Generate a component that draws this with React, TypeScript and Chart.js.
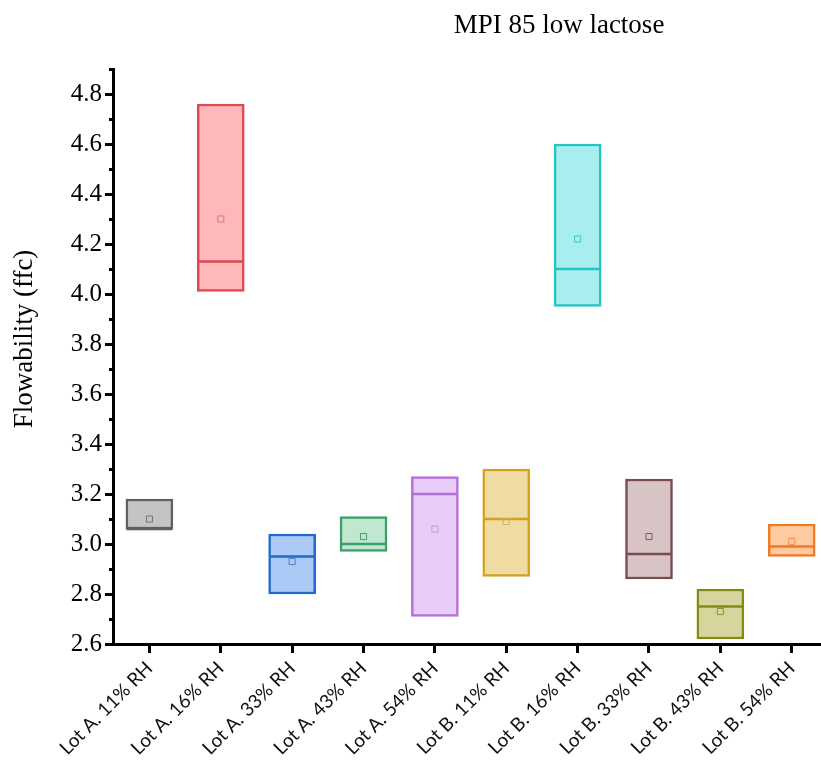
import React, { useEffect, useRef } from "react";
import { Chart, registerables } from "chart.js";

Chart.register(...registerables);

const TITLE = "MPI 85 low lactose";
const Y_TITLE = "Flowability (ffc)";

const categories = [
  "Lot A. 11% RH",
  "Lot A. 16% RH",
  "Lot A. 33% RH",
  "Lot A. 43% RH",
  "Lot A. 54% RH",
  "Lot B. 11% RH",
  "Lot B. 16% RH",
  "Lot B. 33% RH",
  "Lot B. 43% RH",
  "Lot B. 54% RH",
];

const boxLow = [3.06, 4.01, 2.8, 2.97, 2.71, 2.87, 3.95, 2.86, 2.62, 2.95];
const boxHigh = [3.18, 4.76, 3.04, 3.11, 3.27, 3.3, 4.6, 3.26, 2.82, 3.08];
const medians = [3.06, 4.13, 2.95, 3.0, 3.2, 3.1, 4.1, 2.96, 2.75, 2.99];
const means = [3.1, 4.3, 2.93, 3.03, 3.06, 3.09, 4.22, 3.03, 2.73, 3.01];

const borderColors = [
  "#606060",
  "#e0474f",
  "#2068cc",
  "#3a9f68",
  "#b56fdb",
  "#d4a11e",
  "#22c4c4",
  "#7a4b50",
  "#878a12",
  "#ef7a22",
];
const fillColors = [
  "#c4c4c4",
  "#ffb8ba",
  "#abcaf5",
  "#c0e7cf",
  "#e6ccf6",
  "#efdca2",
  "#a8eeee",
  "#d8c4c5",
  "#d6d59e",
  "#ffc9a2",
];
const meanColors = [
  "#707070",
  "#d77a80",
  "#4f82c8",
  "#4f9a70",
  "#c79ae0",
  "#d6b050",
  "#40c4c4",
  "#7f5a5e",
  "#8f9030",
  "#f09050",
];

const yMin = 2.6;
const yMax = 4.9;
const yStep = 0.1;
const xMin = -0.51;
const xMax = 9.41;

const titlePlugin = {
  id: "manualTitles",
  afterDraw(chart: any) {
    const ctx = chart.ctx;
    ctx.save();
    ctx.fillStyle = "#000";
    ctx.font = '27px "Liberation Serif"';
    ctx.textAlign = "center";
    ctx.textBaseline = "alphabetic";
    ctx.fillText(TITLE, 559, 33);
    ctx.translate(25, 339);
    ctx.rotate(-Math.PI / 2);
    ctx.textBaseline = "middle";
    ctx.fillText(Y_TITLE, 0, 0);
    ctx.restore();
  },
};

export default function App() {
  const ref = useRef<HTMLCanvasElement | null>(null);

  useEffect(() => {
    if (!ref.current) return;
    const chart = new Chart(ref.current, {
      type: "bar",
      data: {
        datasets: [
          {
            type: "bar",
            label: "box",
            data: categories.map((_, i) => ({ x: i, y: [boxLow[i], boxHigh[i]] })) as any,
            backgroundColor: fillColors,
            borderColor: borderColors,
            borderWidth: 2.5,
            borderSkipped: false,
            barThickness: 47,
            grouped: false,
            order: 3,
          } as any,
          {
            type: "line",
            label: "median",
            data: categories.map((_, i) => ({ x: i, y: medians[i] })),
            showLine: false,
            pointStyle: "line",
            pointRadius: 23,
            pointBorderWidth: 2.5,
            pointBorderColor: borderColors,
            pointBackgroundColor: borderColors,
            order: 2,
          } as any,
          {
            type: "line",
            label: "mean",
            data: categories.map((_, i) => ({ x: i, y: means[i] })),
            showLine: false,
            pointStyle: "rect",
            pointRadius: 4.3,
            pointBorderWidth: 1,
            pointBorderColor: meanColors,
            pointBackgroundColor: "rgba(0,0,0,0)",
            order: 1,
          } as any,
        ],
      },
      options: {
        animation: false,
        responsive: true,
        maintainAspectRatio: false,
        layout: { autoPadding: false, padding: { top: 69, left: 0, right: 0, bottom: 0 } },
        plugins: {
          legend: { display: false },
          tooltip: { enabled: false },
          title: { display: false },
        },
        scales: {
          x: {
            type: "linear",
            min: xMin,
            max: xMax,
            offset: false,
            afterBuildTicks: (axis: any) => {
              axis.ticks = categories.map((_, i) => ({ value: i }));
            },
            afterFit: (axis: any) => {
              axis.height = 127;
              axis.paddingLeft = 0;
              axis.paddingRight = 0;
            },
            ticks: {
              autoSkip: false,
              maxRotation: 45,
              minRotation: 45,
              padding: 4,
              color: "#111",
              font: { family: "Lato", size: 19 },
              callback: (v: any) => categories[Math.round(Number(v))] ?? "",
            },
            grid: {
              display: true,
              offset: false,
              drawOnChartArea: false,
              drawTicks: true,
              tickLength: 9,
              tickWidth: 3,
              tickColor: "#000",
            },
            border: { display: true, color: "#000", width: 3 },
          },
          y: {
            type: "linear",
            min: yMin,
            max: yMax,
            afterFit: (axis: any) => {
              axis.width = 113;
            },
            ticks: {
              stepSize: yStep,
              autoSkip: false,
              padding: 3,
              color: "#000",
              font: { family: "Liberation Serif", size: 25 },
              callback: (v: any) => {
                const n = Math.round(Number(v) * 10);
                return n % 2 === 0 ? (n / 10).toFixed(1) : "";
              },
            },
            grid: {
              display: true,
              drawOnChartArea: false,
              drawTicks: true,
              tickLength: 8,
              tickWidth: 3,
              tickColor: "#000",
              tickBorderDash: (ctx: any) => {
                const n = Math.round(Number(ctx.tick?.value) * 10);
                return n % 2 === 0 ? [] : [4, 4];
              },
              tickBorderDashOffset: (ctx: any) => {
                const n = Math.round(Number(ctx.tick?.value) * 10);
                return n % 2 === 0 ? 0 : 4;
              },
            } as any,
            border: { display: true, color: "#000", width: 3 },
          },
        },
      } as any,
      plugins: [titlePlugin],
    });
    return () => chart.destroy();
  }, []);

  return (
    <div style={{ position: "absolute", left: 0, top: 0, width: 821, height: 771, background: "#fff" }}>
      <canvas ref={ref} />
    </div>
  );
}
